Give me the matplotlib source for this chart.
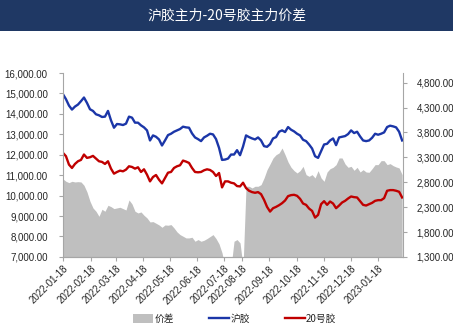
import numpy as np
import matplotlib
matplotlib.use("Agg")
import matplotlib.pyplot as plt
from matplotlib.patches import Rectangle, Patch
from matplotlib.lines import Line2D
from matplotlib.ticker import FuncFormatter

plt.rcParams['font.family'] = ['Liberation Sans', 'Noto Sans CJK SC', 'DejaVu Sans']

# 沪胶主力 (left axis, yuan/ton)
hu_jiao = [14965, 14719, 14407, 14210, 14358, 14456, 14621, 14801, 14538, 14227,
           14145, 13980, 13931, 13849, 13865, 14145, 13685, 13323, 13504, 13488,
           13455, 13521, 13865, 13816, 13570, 13570, 13438, 13340, 13192, 12699,
           12946, 12880, 12749, 12453, 12699, 12962, 13028, 13126, 13192, 13258,
           13373, 13340, 13323, 13044, 12847, 12765, 12667, 12847, 12929, 13028,
           12995, 12765, 12338, 11747, 11764, 11813, 12010, 12010, 12223, 11977,
           12404, 12946, 12864, 12798, 12749, 12847, 12699, 12420, 12388, 12519,
           12798, 12864, 13126, 13192, 13110, 13356, 13225, 13143, 13028, 12946,
           12732, 12667, 12502, 12305, 11928, 11846, 12174, 12502, 12535, 12699,
           12798, 12470, 12847, 12880, 12913, 13011, 13192, 13061, 13126, 12896,
           12699, 12667, 12699, 12831, 13028, 12979, 13028, 13094, 13356, 13422,
           13389, 13340, 13126, 12699]

# 20号胶主力 (left axis, yuan/ton)
nr20 = [12092, 11928, 11517, 11353, 11550, 11681, 11747, 12010, 11846, 11878,
        11944, 11813, 11681, 11649, 11550, 11681, 11320, 11074, 11156, 11222,
        11189, 11271, 11435, 11402, 11320, 11386, 11156, 11287, 11025, 10696,
        10910, 11008, 10778, 10598, 10860, 11123, 11156, 11353, 11435, 11484,
        11714, 11665, 11599, 11353, 11156, 11140, 11156, 11238, 11287, 11254,
        11156, 10959, 11107, 10401, 10696, 10696, 10631, 10598, 10466, 10450,
        10631, 10368, 10237, 10171, 10138, 10171, 10072, 9793, 9448, 9218,
        9383, 9448, 9530, 9629, 9760, 9974, 10023, 10039, 9990, 9842,
        9612, 9547, 9366, 9251, 8923, 9054, 9580, 9727, 9547, 9711,
        9612, 9383, 9514, 9662, 9744, 9859, 9957, 9924, 9908, 9727,
        9547, 9514, 9580, 9645, 9744, 9777, 9777, 9875, 10237, 10269,
        10269, 10237, 10187, 9908]

# 价差 (right axis, yuan/ton)
spread = [2866, 2819, 2792, 2819, 2806, 2812, 2806, 2739, 2605, 2418,
          2284, 2217, 2116, 2257, 2217, 2337, 2310, 2270, 2284, 2297,
          2270, 2243, 2444, 2364, 2217, 2183, 2203, 2136, 2083, 2002,
          2009, 1976, 1942, 1895, 1942, 1936, 1949, 1882, 1802, 1748,
          1715, 1681, 1681, 1695, 1614, 1648, 1614, 1634, 1668, 1708,
          1748, 1668, 1561, 1380, 1100, 1100, 1100, 1614, 1648, 1581,
          1100, 2719, 2719, 2685, 2719, 2719, 2752, 2886, 3053, 3167,
          3288, 3354, 3388, 3488, 3354, 3207, 3100, 3033, 2986, 3033,
          3120, 2953, 2919, 2953, 2886, 3033, 2886, 2819, 3006, 3073,
          3100, 3154, 3288, 3288, 3167, 3100, 3120, 3040, 3100, 3006,
          3053, 3006, 3000, 3073, 3154, 3154, 3234, 3234, 3154, 3174,
          3134, 3107, 3087, 2953]

tick_labels = ['2022-01-18', '2022-02-18', '2022-03-18', '2022-04-18', '2022-05-18',
               '2022-06-18', '2022-07-18', '2022-08-18', '2022-09-18', '2022-10-18',
               '2022-11-18', '2022-12-18', '2023-01-18']
tick_index = [0, 9.2, 17.7, 26.8, 35.7, 44.8, 53.7, 59.6, 68.8, 77.9, 87.1, 96, 104.9]

BLUE = '#1B36A8'
RED = '#C00000'
GRAY = '#BFBFBF'
AXIS = '#A6A6A6'
TEXT = '#262626'

fig = plt.figure(figsize=(4.53, 3.26), dpi=100)
fig.patch.set_facecolor('white')

# title banner
fig.patches.append(Rectangle((0, 0.905), 1, 0.095, transform=fig.transFigure,
                             facecolor='#1F3864', edgecolor='none', zorder=0))
fig.text(0.5, 0.952, '沪胶主力-20号胶主力价差', color='white', fontsize=10,
         ha='center', va='center', family=['Noto Sans CJK SC', 'DejaVu Sans'])

ax = fig.add_axes([0.139, 0.212, 0.750, 0.564])
ax2 = ax.twinx()
ax.set_zorder(ax2.get_zorder() + 1)
ax.patch.set_visible(False)

x = np.arange(len(hu_jiao))
ax2.fill_between(x, 0, spread, color=GRAY, linewidth=0)
ax.plot(x, hu_jiao, color=BLUE, lw=1.7, solid_joinstyle='round')
ax.plot(x, nr20, color=RED, lw=1.7, solid_joinstyle='round')

ax.set_xlim(0, 113.2)
ax.set_ylim(7000, 16000)
ax.set_yticks(np.arange(7000, 16001, 1000))
ax2.set_ylim(1300, 4995)
ax2.set_yticks(np.arange(1300, 4801, 500))

fmt = FuncFormatter(lambda v, p: f'{v:,.2f}')
ax.yaxis.set_major_formatter(fmt)
ax2.yaxis.set_major_formatter(fmt)

ax.set_xticks(tick_index)
ax.set_xticklabels(tick_labels, rotation=45, ha='right', rotation_mode='anchor')

for a in (ax, ax2):
    for s in a.spines.values():
        s.set_color(AXIS)
        s.set_linewidth(0.8)
    a.spines['top'].set_visible(False)
    a.tick_params(colors=AXIS, labelcolor=TEXT, labelsize=7, length=3, width=0.8)
ax.spines['right'].set_visible(False)
ax2.spines['left'].set_visible(False)
ax.tick_params(axis='y', pad=8)
ax2.tick_params(axis='y', pad=7)
ax.tick_params(axis='x', pad=2)

handles = [Patch(facecolor=GRAY, edgecolor='none'),
           Line2D([], [], color=BLUE, lw=1.7),
           Line2D([], [], color=RED, lw=1.7)]
fig.legend(handles, ['价差', '沪胶', '20号胶'], loc='center', ncol=3,
           bbox_to_anchor=(0.518, 0.022), frameon=False,
           prop={'family': ['Noto Sans CJK SC', 'DejaVu Sans'], 'size': 7},
           handlelength=2.1, handleheight=0.9, handletextpad=0.1, columnspacing=3.6,
           labelcolor=TEXT)

fig.savefig('out.png', dpi=100, facecolor='white')
